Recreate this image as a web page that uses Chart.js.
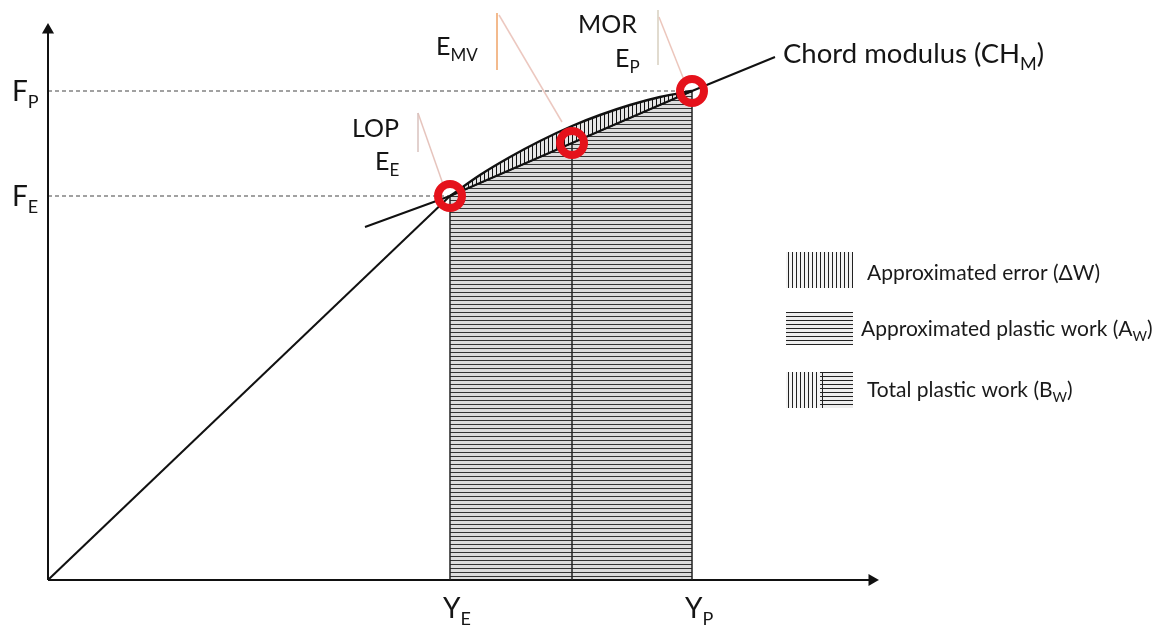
<!DOCTYPE html>
<html>
<head>
<meta charset="utf-8">
<script src="https://cdn.jsdelivr.net/npm/chart.js@4.4.0/dist/chart.umd.min.js"></script>
<style>
  body { margin: 0; background: #fff; }
  #wrap { width: 1163px; height: 627px; }
</style>
</head>
<body>
<div id="wrap"><canvas id="chart" width="1163" height="627"></canvas></div>
<script>
// schematic load-deflection curve, units are arbitrary (deflection on x, force on y)
const elasticX = [0, 402];
const elasticY = [0, 384];
const curveX = [402, 432, 462, 492, 524, 552, 582, 612, 644];
const curveY = [384, 405, 423, 439, 454, 465, 475, 483, 489];
const chordX = [317, 402, 524, 644, 727];
const chordY = [353, 384, 437, 489, 523];
const keyX = [402, 524, 644];      // LOP, mid value, MOR
const keyY = [384, 437, 489];
const forceTicks = [384, 489];
const forceTickLabels = [['F', 'E'], ['F', 'P']];
const deflTicks = [402, 644];
const deflTickLabels = [['Y', 'E'], ['Y', 'P']];
const axisEnd = { x: 824, y: 550 };

// callout leaders (label -> point), same units
const callouts = [
  { color: '#d9c2bf', pts: [[370, 467], [370, 428]] },
  { color: '#e6c4bd', pts: [[370, 467], [396, 393]] },
  { color: '#f0a468', pts: [[449, 567], [449, 510]] },
  { color: '#ecc8c0', pts: [[451, 565], [514, 458]] },
  { color: '#d8d0c0', pts: [[610, 570], [610, 515]] },
  { color: '#ecc6bc', pts: [[611, 563], [636, 500]] }
];

const textLabels = [
  { x: 304, y: 443, main: 'LOP' },
  { x: 327, y: 410, main: 'E', sub: 'E' },
  { x: 388, y: 525, main: 'E', sub: 'MV' },
  { x: 530, y: 547, main: 'MOR' },
  { x: 567, y: 513, main: 'E', sub: 'P' },
  { x: 735, y: 517, main: 'Chord modulus (CH', sub: 'M', tail: ')', size: 27.5 }
];

const FONT = 'Lato, "Open Sans", sans-serif';

function hatch(vertical, step, bg, ink) {
  const c = document.createElement('canvas');
  c.width = vertical ? step : 1;
  c.height = vertical ? 1 : step;
  const g = c.getContext('2d');
  g.fillStyle = bg;
  g.fillRect(0, 0, c.width, c.height);
  g.fillStyle = ink;
  g.fillRect(0, 0, 1, 1);
  return g.createPattern(c, 'repeat');
}

const ctx = document.getElementById('chart').getContext('2d');
const vHatch = hatch(true, 4, '#e6e6e6', '#111');
const hHatch = hatch(false, 4, '#dcdcdc', '#333');
const vHatchLeg = hatch(true, 4, '#f4f4f4', '#222');
const hHatchLeg = hatch(false, 4, '#eeeeee', '#222');

function pts(xs, ys) { return xs.map((x, i) => ({ x: x, y: ys[i] })); }

function drawLabel(c, x, y, main, sub, tail, size) {
  c.font = size + 'px ' + FONT;
  c.fillText(main, x, y);
  let w = c.measureText(main).width;
  if (sub) {
    const s = Math.round(size * 0.66);
    c.font = s + 'px ' + FONT;
    c.fillText(sub, x + w, y + size * 0.24);
    w += c.measureText(sub).width;
  }
  if (tail) {
    c.font = size + 'px ' + FONT;
    c.fillText(tail, x + w, y);
  }
}

const overlay = {
  id: 'overlay',
  beforeDraw(chart) {
    const c = chart.ctx;
    c.save();
    c.fillStyle = '#fff';
    c.fillRect(0, 0, chart.width, chart.height);
    c.restore();
  },
  afterDraw(chart) {
    const c = chart.ctx;
    const xs = chart.scales.x, ys = chart.scales.y;
    c.save();
    c.fillStyle = '#151515';
    c.textBaseline = 'alphabetic';
    textLabels.forEach(l => {
      drawLabel(c, xs.getPixelForValue(l.x), ys.getPixelForValue(l.y), l.main, l.sub, l.tail, l.size || 25);
    });
    // force levels on the left
    forceTicks.forEach((v, i) => {
      drawLabel(c, 12, ys.getPixelForValue(v) + 10, forceTickLabels[i][0], forceTickLabels[i][1], null, 28);
    });
    // deflection levels under the axis
    deflTicks.forEach((v, i) => {
      drawLabel(c, xs.getPixelForValue(v) - 7, 618, deflTickLabels[i][0], deflTickLabels[i][1], null, 28);
    });

    // legend
    c.fillStyle = vHatchLeg;
    c.fillRect(786, 252, 67, 36);
    c.fillStyle = hHatchLeg;
    c.fillRect(786, 312, 67, 33);
    c.fillStyle = vHatchLeg;
    c.fillRect(786, 372, 34, 36);
    c.fillStyle = hHatchLeg;
    c.fillRect(820, 372, 33, 36);
    c.fillStyle = '#222';
    c.fillRect(822, 372, 1, 36);
    c.fillStyle = '#1a1a1a';
    drawLabel(c, 867, 280, 'Approximated error (\u0394W)', null, null, 21);
    drawLabel(c, 861, 336, 'Approximated plastic work (A', 'W', ')', 21);
    drawLabel(c, 867, 397, 'Total plastic work (B', 'W', ')', 21);
    c.restore();
  }
};

const datasets = [
  {
    // red rings at LOP, mid value, MOR
    data: pts(keyX, keyY), showLine: false, order: 0,
    pointRadius: 12, pointBorderWidth: 8, pointBorderColor: '#e5121b',
    pointBackgroundColor: 'rgba(255,255,255,0)'
  },
  {
    // real curve between LOP and MOR
    data: pts(curveX, curveY), showLine: true, order: 2,
    borderColor: '#111', borderWidth: 2.4, pointRadius: 0,
    cubicInterpolationMode: 'monotone',
    fill: { target: 3 }, backgroundColor: vHatch
  },
  {
    // chord modulus line
    data: pts(chordX, chordY), showLine: true, order: 1,
    borderColor: '#111', borderWidth: 2, pointRadius: 0
  },
  {
    // chord between key points, area under it
    data: pts(keyX, keyY), showLine: true, order: 4,
    borderColor: '#111', borderWidth: 1.5, pointRadius: 0,
    fill: 'origin', backgroundColor: hHatch
  },
  {
    // elastic part
    data: pts(elasticX, elasticY), showLine: true, order: 1,
    borderColor: '#111', borderWidth: 2, pointRadius: 0
  }
];

keyX.forEach((x, i) => {
  datasets.push({
    data: [{ x: x, y: 0 }, { x: x, y: keyY[i] }], showLine: true, order: 1,
    borderColor: '#222', borderWidth: 1.5, pointRadius: 0
  });
});

forceTicks.forEach((v, i) => {
  datasets.push({
    data: [{ x: 0, y: v }, { x: deflTicks[i], y: v }], showLine: true, order: 3,
    borderColor: '#444', borderWidth: 1.2, borderDash: [4, 3], pointRadius: 0
  });
});

// axes with arrow heads
datasets.push({
  data: [{ x: 0, y: 0 }, { x: axisEnd.x, y: 0 }], showLine: true, order: 1, clip: false,
  borderColor: '#111', borderWidth: 2, pointRadius: [0, 5], pointStyle: 'triangle',
  pointRotation: [0, 90], pointBackgroundColor: '#111', pointBorderColor: '#111'
});
datasets.push({
  data: [{ x: 0, y: 0 }, { x: 0, y: axisEnd.y }], showLine: true, order: 1, clip: false,
  borderColor: '#111', borderWidth: 2, pointRadius: [0, 5], pointStyle: 'triangle',
  pointRotation: [0, 0], pointBackgroundColor: '#111', pointBorderColor: '#111'
});

callouts.forEach(cl => {
  datasets.push({
    data: cl.pts.map(p => ({ x: p[0], y: p[1] })), showLine: true, order: 1, clip: false,
    borderColor: cl.color, borderWidth: 1.5, pointRadius: 0
  });
});

new Chart(ctx, {
  type: 'scatter',
  data: { datasets: datasets },
  options: {
    responsive: false,
    animation: false,
    events: [],
    layout: { autoPadding: false, padding: { left: 48, right: 0, top: 0, bottom: 47 } },
    scales: {
      x: { type: 'linear', min: 0, max: 1115, display: false },
      y: { type: 'linear', min: 0, max: 580, display: false }
    },
    plugins: {
      legend: { display: false },
      tooltip: { enabled: false }
    }
  },
  plugins: [overlay]
});
</script>
</body>
</html>
